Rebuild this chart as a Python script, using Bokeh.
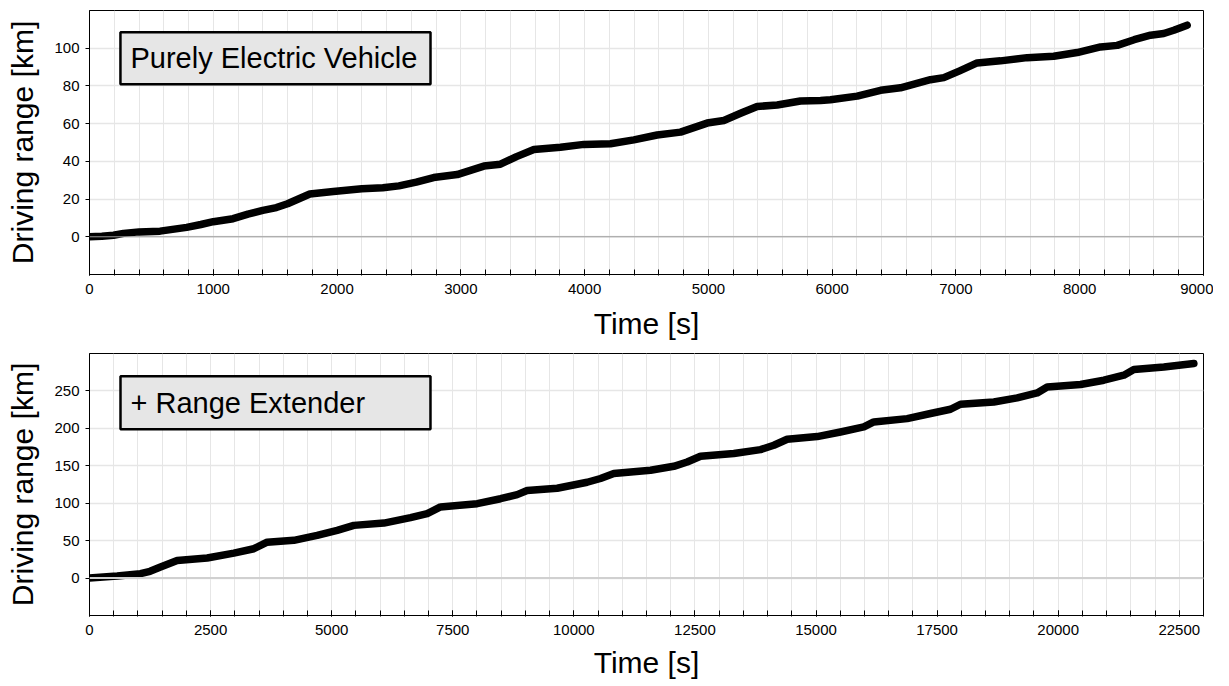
from bokeh.plotting import figure
from bokeh.layouts import column
from bokeh.models import FixedTicker, Span, BoxAnnotation, Label, Range1d
from bokeh.embed import file_html
from bokeh.resources import INLINE

# ---------------- data ----------------
ev_time = [0, 100, 194, 275, 400, 570, 785, 900, 1000, 1160, 1280, 1400, 1510, 1600,
           1780, 1970, 2200, 2370, 2500, 2640, 2780, 2970, 3186, 3320, 3450, 3590,
           3805, 3994, 4209, 4398, 4586, 4775, 4990, 5125, 5260, 5394, 5556, 5744,
           5906, 5986, 6202, 6391, 6552, 6794, 6902, 7030, 7171, 7360, 7575, 7790,
           7979, 8168, 8303, 8440, 8572, 8679, 8760, 8868]
ev_range = [0, 0.3, 0.8, 1.8, 2.6, 3.0, 5.0, 6.5, 8.0, 9.6, 12.0, 14.0, 15.5, 17.5,
            22.7, 24.0, 25.5, 26.0, 27.0, 29.0, 31.4, 33.0, 37.5, 38.5, 42.5, 46.3,
            47.5, 49.0, 49.3, 51.4, 54.0, 55.5, 60.3, 61.7, 65.5, 69.1, 69.9, 72.0,
            72.3, 72.7, 74.6, 77.7, 79.0, 83.3, 84.4, 88.0, 92.2, 93.3, 95.0, 95.7,
            97.7, 100.7, 101.5, 104.5, 106.9, 107.8, 109.5, 112.2]

rex_time = [0, 571, 1053, 1250, 1466, 1810, 2430, 2980, 3393, 3668, 4219, 4700, 5114,
            5458, 6078, 6628, 6972, 7247, 8004, 8486, 8830, 9036, 9656, 10275, 10550,
            10825, 11583, 12064, 12340, 12615, 13303, 13854, 14129, 14405, 15024,
            15505, 15987, 16193, 16882, 17364, 17777, 17983, 18672, 19153, 19566,
            19773, 20461, 20943, 21356, 21562, 22182, 22801]
rex_range = [0, 2.7, 5.8, 9.0, 14.7, 23.6, 26.8, 33.4, 39.2, 48.0, 50.4, 57.0, 63.8,
             70.4, 73.5, 80.7, 86.0, 95.0, 99.4, 106.0, 111.5, 117.0, 120.0, 128.0, 133.0,
             139.6, 144.0, 149.3, 155.0, 162.7, 166.3, 171.6, 177.4, 185.4, 189.0,
             195.2, 201.9, 208.6, 213.0, 219.8, 225.5, 232.2, 235.3, 240.7, 247.3,
             255.3, 258.6, 264.3, 271.0, 278.6, 282.0, 286.6]

ev_xticks = list(range(0, 9001, 1000))
ev_xminor = list(range(0, 9001, 200))
ev_yticks = [0, 20, 40, 60, 80, 100]
rex_xticks = list(range(0, 22501, 2500))
rex_xminor = list(range(0, 23001, 500))
rex_yticks = [0, 50, 100, 150, 200, 250]

FONT = "Liberation Sans"
GRID = "#e6e6e6"


def make_fig(x, y, xr, yr, xticks, xminor, yticks, box, label_text, label_pos,
             zero_color, zero_width, height, top_border, bottom_border, xlabel_standoff):
    p = figure(width=1213, height=height, output_backend="svg", toolbar_location=None,
               x_range=Range1d(*xr), y_range=Range1d(*yr),
               min_border_left=89, min_border_right=10,
               min_border_top=top_border, min_border_bottom=bottom_border)
    p.outline_line_color = "black"
    p.outline_line_width = 1
    p.background_fill_color = "white"

    p.xaxis.ticker = FixedTicker(ticks=xticks, minor_ticks=xminor)
    p.yaxis.ticker = FixedTicker(ticks=yticks)
    p.xgrid.ticker = FixedTicker(ticks=xticks, minor_ticks=xminor)
    p.ygrid.ticker = FixedTicker(ticks=yticks)
    p.xgrid.grid_line_color = GRID
    p.xgrid.minor_grid_line_color = GRID
    p.ygrid.grid_line_color = GRID
    p.ygrid.grid_line_width = 1.5

    for ax in (p.xaxis[0], p.yaxis[0]):
        ax.axis_line_color = "black"
        ax.major_tick_line_color = "black"
        ax.major_label_text_font = FONT
        ax.major_label_text_font_size = "15px"
        ax.major_label_text_color = "black"
        ax.axis_label_text_font = FONT
        ax.axis_label_text_font_size = "30px"
        ax.axis_label_text_font_style = "normal"
        ax.axis_label_text_color = "black"

    xa = p.xaxis[0]
    xa.axis_label = "Time [s]"
    xa.major_tick_in = 5
    xa.major_tick_out = 1
    xa.minor_tick_in = 5
    xa.minor_tick_out = 1
    xa.minor_tick_line_color = "black"
    xa.major_label_standoff = 8
    xa.axis_label_standoff = xlabel_standoff

    ya = p.yaxis[0]
    ya.axis_label = "Driving range [km]"
    ya.major_tick_in = 0
    ya.major_tick_out = 4
    ya.minor_tick_line_color = None
    ya.major_label_standoff = 6
    ya.axis_label_standoff = 12

    p.add_layout(Span(location=0, dimension="width", line_color=zero_color,
                      line_width=zero_width))

    p.line(x, y, line_color="black", line_width=7.5, line_join="round", line_cap="round")

    p.add_layout(BoxAnnotation(left=box[0], right=box[1], bottom=box[2], top=box[3],
                               fill_color="#e6e6e6", fill_alpha=1.0,
                               line_color="black", line_width=2.5, line_alpha=1.0))
    p.add_layout(Label(x=label_pos[0], y=label_pos[1], text=label_text,
                       text_font=FONT, text_font_size="29px", text_color="black",
                       text_baseline="middle", text_align="left"))
    return p


p1 = make_fig(ev_time, ev_range, (0, 9000), (-20, 120), ev_xticks, ev_xminor, ev_yticks,
              (250, 2755, 80.9, 108.5), "Purely Electric Vehicle", (331, 94.7),
              "#9a9a9a", 1, 343, 10, 69, 10)
p2 = make_fig(rex_time, rex_range, (0, 23000), (-50, 300), rex_xticks, rex_xminor, rex_yticks,
              (640, 7040, 198.8, 269.7), "+ Range Extender", (846, 234),
              "#d0d0d0", 2, 341, 10, 69, 8)

p = column(p1, p2, spacing=0)
open("out.html", "w").write(file_html(p, INLINE))
